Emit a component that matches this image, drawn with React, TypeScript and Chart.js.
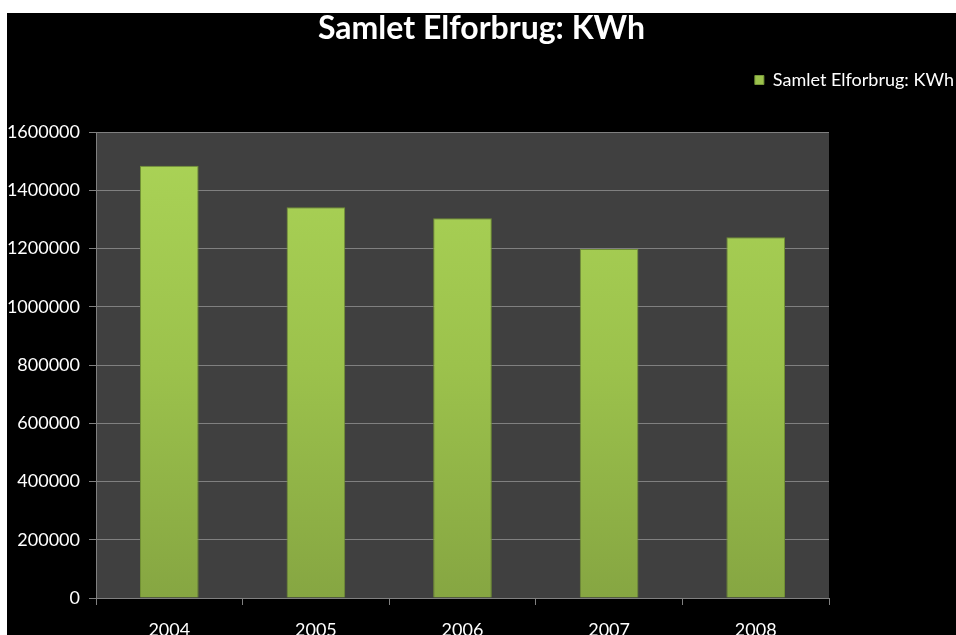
import React, { useEffect, useRef } from "react";
import { Chart, registerables } from "chart.js";

Chart.register(...registerables);

const categories = ["2004", "2005", "2006", "2007", "2008"];
const seriesName = "Samlet Elforbrug: KWh";
const values = [1484000, 1342000, 1304000, 1198000, 1239000];
const titleText = "Samlet Elforbrug: KWh";
const yMax = 1600000;
const yStep = 200000;

const FONT = "Lato, 'Open Sans', sans-serif";

export default function App() {
  const ref = useRef<HTMLCanvasElement | null>(null);

  useEffect(() => {
    if (!ref.current) return;

    const bgPlugin = {
      id: "areaBg",
      beforeInit(chart: any) {
        const lg = chart.legend;
        if (lg && !lg.__patched) {
          const orig = lg.fit;
          lg.fit = function () {
            orig.call(this);
            this.height += 33;
          };
          lg.__patched = true;
        }
      },
      beforeDraw(chart: any) {
        const { ctx, chartArea } = chart;
        ctx.save();
        ctx.fillStyle = "#000000";
        ctx.fillRect(0, 0, chart.width, chart.height);
        ctx.fillStyle = "#404040";
        ctx.fillRect(
          chartArea.left,
          chartArea.top,
          chartArea.right - chartArea.left,
          chartArea.bottom - chartArea.top
        );
        ctx.restore();
      },
    };

    const chart = new Chart(ref.current, {
      type: "bar",
      data: {
        labels: categories,
        datasets: [
          {
            label: seriesName,
            data: values,
            backgroundColor: (c: any) => {
              const area = c.chart.chartArea;
              if (!area) return "#a5cf50";
              const g = c.chart.ctx.createLinearGradient(0, area.top, 0, area.bottom);
              g.addColorStop(0, "#abd457");
              g.addColorStop(0.5, "#9cc24c");
              g.addColorStop(1, "#86a642");
              return g;
            },
            borderColor: "#708f34",
            borderWidth: 1,
            barPercentage: 0.8,
            categoryPercentage: 0.5,
          },
        ],
      },
      options: {
        animation: false,
        responsive: true,
        maintainAspectRatio: false,
        layout: { padding: 0 },
        plugins: {
          title: {
            display: true,
            text: titleText,
            color: "#ffffff",
            font: { family: FONT, size: 32, weight: "bold", lineHeight: 1 },
            padding: { top: 0, bottom: 24 },
          },
          legend: {
            display: true,
            position: "top",
            align: "end",
            labels: {
              color: "#ffffff",
              font: { family: FONT, size: 18 },
              boxWidth: 9,
              boxHeight: 9,
              padding: 2,
              generateLabels: () => [
                {
                  text: seriesName,
                  fillStyle: "#9cc24c",
                  strokeStyle: "#78983a",
                  lineWidth: 1,
                  fontColor: "#ffffff",
                  datasetIndex: 0,
                  hidden: false,
                },
              ],
            },
          },
          tooltip: { enabled: false },
        },
        scales: {
          x: {
            grid: {
              display: true,
              drawOnChartArea: false,
              drawTicks: true,
              tickLength: 7,
              color: "#808080",
              offset: true,
            },
            border: { display: true, color: "#808080", width: 1 },
            ticks: {
              color: "#ffffff",
              font: { family: FONT, size: 18 },
              padding: 14,
              maxRotation: 0,
            },
            afterFit: (s: any) => {
              s.height = 37;
            },
          },
          y: {
            min: 0,
            max: yMax,
            ticks: {
              stepSize: yStep,
              color: "#ffffff",
              font: { family: FONT, size: 18 },
              padding: 9,
              callback: (v: any) => String(v),
            },
            grid: {
              color: "#808080",
              tickLength: 7,
              drawTicks: true,
            },
            border: { display: true, color: "#808080" },
            afterFit: (s: any) => {
              s.width = 89;
            },
          },
          yRight: {
            position: "right",
            display: true,
            grid: { display: false, drawTicks: false },
            border: { display: false },
            ticks: { display: false },
            afterFit: (s: any) => {
              s.width = 127;
            },
          },
        },
      },
      plugins: [bgPlugin],
    } as any);

    return () => chart.destroy();
  }, []);

  return (
    <div
      style={{
        position: "absolute",
        left: 7,
        top: 13,
        width: 949,
        height: 622,
        background: "#000",
      }}
    >
      <canvas ref={ref} />
    </div>
  );
}
